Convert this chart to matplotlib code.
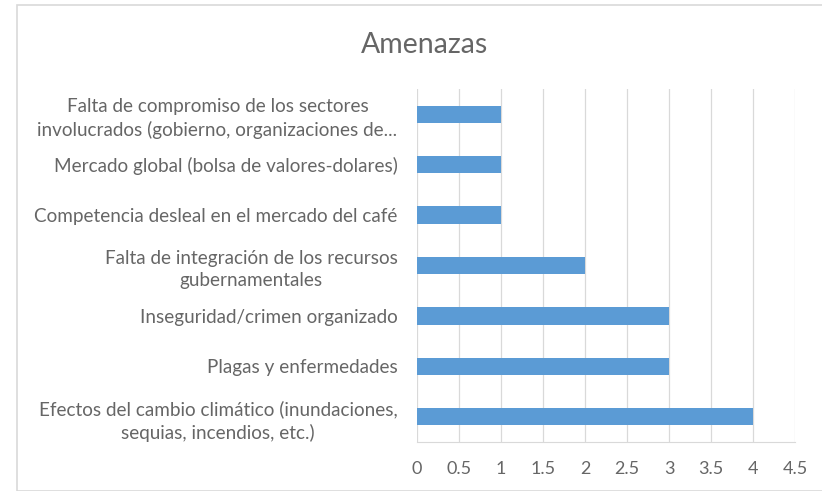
import matplotlib.pyplot as plt
from matplotlib.patches import Rectangle

plt.rcParams['font.family'] = ['Lato', 'DejaVu Sans']

categories = [
    'Efectos del cambio climático (inundaciones,\nsequias, incendios, etc.)',
    'Plagas y enfermedades',
    'Inseguridad/crimen organizado',
    'Falta de integración de los recursos\ngubernamentales',
    'Competencia desleal en el mercado del café',
    'Mercado global (bolsa de valores-dolares)',
    'Falta de compromiso de los sectores\ninvolucrados (gobierno, organizaciones de...',
]
values = [4, 3, 3, 2, 1, 1, 1]
xticks = [0, 0.5, 1, 1.5, 2, 2.5, 3, 3.5, 4, 4.5]

text_color = '#666666'

fig = plt.figure(figsize=(8.22, 4.91), dpi=100)
ax = fig.add_axes([417 / 822, 1 - 442 / 491, 378 / 822, 353 / 491])

ax.barh(range(len(categories)), values, height=0.34, color='#5B9BD5', zorder=3)

ax.set_xlim(0, 4.5)
ax.set_ylim(-0.5, len(categories) - 0.5)
ax.set_xticks(xticks)
ax.set_xticklabels([('%g' % t) for t in xticks], color=text_color, fontsize=13)
ax.set_yticks(range(len(categories)))
ax.set_yticklabels(categories, color=text_color, fontsize=13.6,
                   multialignment='center', linespacing=1.35)
ax.tick_params(axis='both', length=0)
ax.tick_params(axis='y', pad=14)
ax.tick_params(axis='x', pad=14)

ax.grid(axis='x', color='#D9D9D9', linewidth=0.9, zorder=0)
for side in ['top', 'right', 'left']:
    ax.spines[side].set_visible(False)
ax.spines['bottom'].set_color('#D9D9D9')

fig.text(425 / 822, 1 - 45 / 491, 'Amenazas', ha='center', va='center',
         fontsize=20.5, color=text_color)

# light chart border
fig.patches.append(Rectangle((17 / 822, 0), 820 / 822, 1 - 5 / 491,
                             transform=fig.transFigure, fill=False,
                             edgecolor='#D9D9D9', linewidth=1.2))

fig.savefig('out.png', dpi=100)
